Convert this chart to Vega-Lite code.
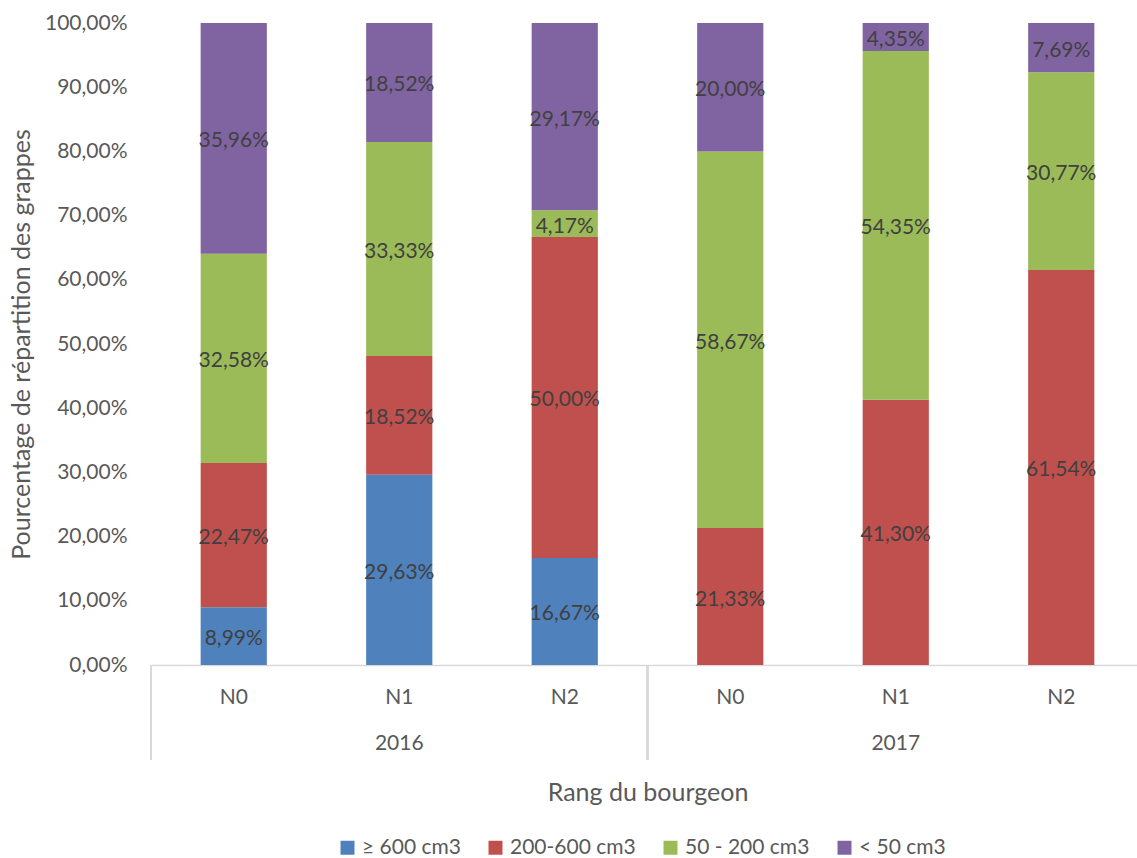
{
  "$schema": "https://vega.github.io/schema/vega-lite/v6.json",
  "width": 993,
  "height": 642,
  "padding": {"left": 9, "top": 12, "right": 0, "bottom": 0},
  "config": {
    "locale": {"number": {"decimal": ",", "thousands": " ", "grouping": [3], "currency": ["", " €"]}},
    "font": "Lato",
    "view": {"stroke": null},
    "axis": {"labelFont": "Lato", "titleFont": "Lato", "labelFontSize": 21, "titleFontSize": 25, "labelColor": "#595959", "titleColor": "#595959", "titleFontWeight": "normal", "grid": false}
  },
  "data": {"values": [
    {"barre": "2016 N0", "classe": "≥ 600 cm3", "ordre": 1, "part": 0.0899},
    {"barre": "2016 N0", "classe": "200-600 cm3", "ordre": 2, "part": 0.2247},
    {"barre": "2016 N0", "classe": "50 - 200 cm3", "ordre": 3, "part": 0.3258},
    {"barre": "2016 N0", "classe": "< 50 cm3", "ordre": 4, "part": 0.3596},
    {"barre": "2016 N1", "classe": "≥ 600 cm3", "ordre": 1, "part": 0.2963},
    {"barre": "2016 N1", "classe": "200-600 cm3", "ordre": 2, "part": 0.1852},
    {"barre": "2016 N1", "classe": "50 - 200 cm3", "ordre": 3, "part": 0.3333},
    {"barre": "2016 N1", "classe": "< 50 cm3", "ordre": 4, "part": 0.1852},
    {"barre": "2016 N2", "classe": "≥ 600 cm3", "ordre": 1, "part": 0.1667},
    {"barre": "2016 N2", "classe": "200-600 cm3", "ordre": 2, "part": 0.5000},
    {"barre": "2016 N2", "classe": "50 - 200 cm3", "ordre": 3, "part": 0.0417},
    {"barre": "2016 N2", "classe": "< 50 cm3", "ordre": 4, "part": 0.2917},
    {"barre": "2017 N0", "classe": "200-600 cm3", "ordre": 2, "part": 0.2133},
    {"barre": "2017 N0", "classe": "50 - 200 cm3", "ordre": 3, "part": 0.5867},
    {"barre": "2017 N0", "classe": "< 50 cm3", "ordre": 4, "part": 0.2000},
    {"barre": "2017 N1", "classe": "200-600 cm3", "ordre": 2, "part": 0.4130},
    {"barre": "2017 N1", "classe": "50 - 200 cm3", "ordre": 3, "part": 0.5435},
    {"barre": "2017 N1", "classe": "< 50 cm3", "ordre": 4, "part": 0.0435},
    {"barre": "2017 N2", "classe": "200-600 cm3", "ordre": 2, "part": 0.6154},
    {"barre": "2017 N2", "classe": "50 - 200 cm3", "ordre": 3, "part": 0.3077},
    {"barre": "2017 N2", "classe": "< 50 cm3", "ordre": 4, "part": 0.0769}
  ]},
  "transform": [
    {"stack": "part", "groupby": ["barre"], "sort": [{"field": "ordre"}], "as": ["y0", "y1"]},
    {"calculate": "(datum.y0 + datum.y1) / 2", "as": "milieu"}
  ],
  "layer": [
    {
      "mark": {"type": "bar", "width": {"band": 0.4}},
      "encoding": {
        "x": {
          "field": "barre", "type": "ordinal",
          "scale": {"paddingInner": 0, "paddingOuter": 0},
          "axis": {
            "title": "Rang du bourgeon",
            "labelExpr": "split(datum.value, ' ')[1] == 'N1' ? [split(datum.value, ' ')[1], split(datum.value, ' ')[0]] : split(datum.value, ' ')[1]",
            "labelAngle": 0,
            "labelLineHeight": 46,
            "labelBaseline": "top",
            "labelPadding": 21,
            "ticks": false,
            "tickSize": 0,
            "domainColor": "#d9d9d9",
            "domainWidth": 1.5,
            "titlePadding": 27
          }
        },
        "y": {
          "field": "y0", "type": "quantitative",
          "scale": {"domain": [0, 1]},
          "axis": {
            "title": "Pourcentage de répartition des grappes",
            "format": ".2%",
            "values": [0, 0.1, 0.2, 0.3, 0.4, 0.5, 0.6, 0.7, 0.8, 0.9, 1],
            "domain": false,
            "ticks": false,
            "tickSize": 0,
            "labelPadding": 24,
            "titlePadding": 10
          }
        },
        "y2": {"field": "y1"},
        "color": {
          "field": "classe", "type": "nominal",
          "scale": {"domain": ["≥ 600 cm3", "200-600 cm3", "50 - 200 cm3", "< 50 cm3"], "range": ["#4F81BD", "#C0504D", "#9BBB59", "#8064A2"]},
          "legend": {
            "title": null, "orient": "none", "direction": "horizontal",
            "legendX": 186, "legendY": 814,
            "symbolType": "square", "symbolSize": 196, "symbolStrokeWidth": 0,
            "labelFontSize": 21, "labelColor": "#595959", "labelFont": "Lato",
            "columnPadding": 24, "labelOffset": 4
          }
        }
      }
    },
    {
      "mark": {"type": "text", "fontSize": 21, "color": "#404040", "baseline": "middle", "font": "Lato", "dy": 3},
      "encoding": {
        "x": {"field": "barre", "type": "ordinal"},
        "y": {"field": "milieu", "type": "quantitative"},
        "text": {"field": "part", "type": "quantitative", "format": ".2%"}
      }
    },
    {
      "mark": {"type": "rule", "clip": false, "color": "#d9d9d9", "strokeWidth": 1.5},
      "encoding": {
        "x": {"datum": "2016 N0", "type": "ordinal", "bandPosition": 0},
        "y": {"datum": 0},
        "y2": {"datum": -0.148}
      }
    },
    {
      "mark": {"type": "rule", "clip": false, "color": "#d9d9d9", "strokeWidth": 1.5},
      "encoding": {
        "x": {"datum": "2017 N0", "type": "ordinal", "bandPosition": 0},
        "y": {"datum": 0},
        "y2": {"datum": -0.148}
      }
    },
    {
      "mark": {"type": "rule", "clip": false, "color": "#d9d9d9", "strokeWidth": 1.5},
      "encoding": {
        "x": {"datum": "2017 N2", "type": "ordinal", "bandPosition": 1},
        "y": {"datum": 0},
        "y2": {"datum": -0.148}
      }
    }
  ]
}
